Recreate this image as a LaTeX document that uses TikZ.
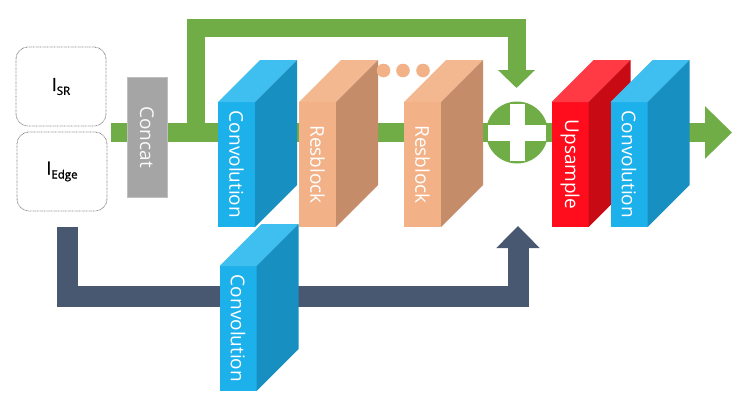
\documentclass[tikz,border=0pt]{standalone}
\usepackage{fontspec}
\setmainfont{Open Sans}
\newfontfamily\inputfont{Open Sans}[FakeBold=1.6]
\usetikzlibrary{arrows.meta}
\definecolor{gband}{HTML}{70AD47}
\definecolor{dband}{HTML}{485870}
\definecolor{bfront}{HTML}{1DB1EC}
\definecolor{btop}{HTML}{3FBFF0}
\definecolor{bside}{HTML}{178FC1}
\definecolor{ofront}{HTML}{F2B186}
\definecolor{otop}{HTML}{F3B88F}
\definecolor{oside}{HTML}{C58C6A}
\definecolor{rfront}{HTML}{FF0D1D}
\definecolor{rtop}{HTML}{FF3A44}
\definecolor{rside}{HTML}{C80A15}
\definecolor{cgray}{HTML}{A5A5A5}
\definecolor{boxline}{HTML}{7F7F7F}
\tikzset{
  face/.style={minimum width=37pt, minimum height=125pt, inner sep=0pt, outer sep=0pt},
  blocklabel/.style={rotate=-90, text=white, font=\fontsize{19}{19}\selectfont, inner sep=0pt},
  inbox/.style={draw=boxline, dash pattern=on 0.7pt off 0.7pt, line width=0.8pt, rounded corners=12pt, minimum width=90pt, minimum height=79pt, inner sep=0pt, font=\inputfont},
  gline/.style={draw=gband, line width=18pt},
  dline/.style={draw=dband, line width=21pt},
}
\newcommand{\cubeblock}[7]{%
  \node[face, fill=#4] (#1) at (#2,#3) {};
  \fill[#5] (#1.north west) -- ++(42,-42) -- ++(37,0) -- (#1.north east) -- cycle;
  \fill[#6] (#1.north east) -- ++(42,-42) -- ++(0,125) -- (#1.south east) -- cycle;
  \node[blocklabel] (#1-label) at (#1.center) {#7};
}
\begin{document}
\begin{tikzpicture}[x=1pt,y=-1pt]
\useasboundingbox (0,0) rectangle (740,402);
% green main band and output arrow
\coordinate (mainstart) at (111,132.5);
\coordinate (outtip) at (732,132.5);
\draw[gline, line width=19pt, -{Triangle[width=51pt,length=27pt]}] (mainstart) -- (outtip);
% skip connection
\coordinate (skipstart) at (195.5,132.5);
\coordinate (skipturn) at (195.5,28);
\coordinate (skiptip) at (516.5,88);
\draw[gline, -{Triangle[width=36pt,length=18pt]}] (skipstart) -- (skipturn) -| (skiptip);
% dark edge path
\coordinate (edgeout) at (67,227);
\coordinate (dcorner) at (67,296.5);
\coordinate (darktip) at (518,226);
\draw[dline, -{Triangle[width=42pt,length=22pt]}] (edgeout) -- (dcorner) -| (darktip);
% inputs
\node[inbox] (isr) at (61,86.5) {\fontsize{18}{18}\selectfont I\raisebox{-4pt}{\fontsize{11.5}{11.5}\selectfont SR}};
\node[inbox] (iedge) at (62,171.5) {\fontsize{18}{18}\selectfont I\raisebox{-4pt}{\fontsize{11.5}{11.5}\selectfont Edge}};
% concat
\node[fill=cgray, draw=gray!50, minimum width=40pt, minimum height=120pt, inner sep=0pt] (concat) at (147,137) {};
\node[blocklabel, text=white!95!gray] (concat-label) at (concat.center) {Concat};
% blocks
\cubeblock{conv1}{236.5}{164.5}{bfront}{btop}{bside}{Convolution}
\cubeblock{res1}{317.5}{164.5}{ofront}{otop}{oside}{Resblock}
\cubeblock{res2}{422.5}{164.5}{ofront}{otop}{oside}{Resblock}
\cubeblock{ups}{570}{164.5}{rfront}{rtop}{rside}{Upsample}
\cubeblock{conv2}{629}{164.5}{bfront}{btop}{bside}{Convolution}
\cubeblock{conv3}{238}{328.5}{bfront}{btop}{bside}{Convolution}
% dots
\fill[ofront] (383.5,70.5) circle (6.8pt);
\fill[ofront] (403,70.5) circle (6.8pt);
\fill[ofront] (423,70.5) circle (6.8pt);
% plus
\node[circle, fill=gband, minimum size=62pt, inner sep=0pt] (plus) at (517,132.5) {};
\fill[white] ([xshift=-29pt,yshift=-8pt]plus.center) rectangle ([xshift=29pt,yshift=8pt]plus.center);
\fill[white] ([xshift=-7.5pt,yshift=-28.5pt]plus.center) rectangle ([xshift=7.5pt,yshift=28.5pt]plus.center);
\end{tikzpicture}
\end{document}
